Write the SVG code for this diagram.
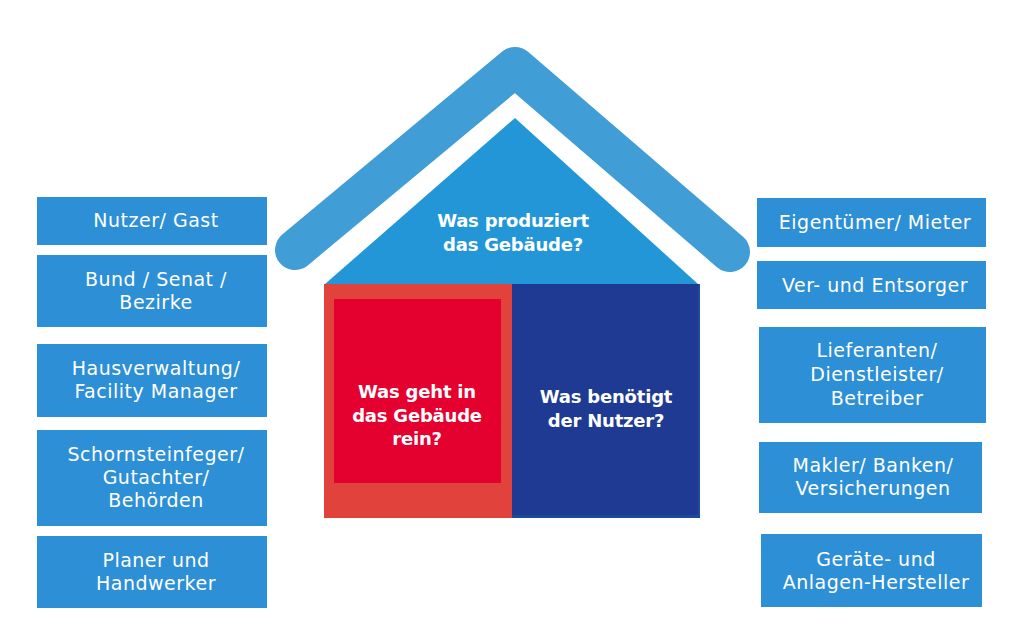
<svg xmlns="http://www.w3.org/2000/svg" width="1024" height="632" viewBox="0 0 1024 632">
<style>
.box{fill:#2d8fd5}
.lbl{font-family:"DejaVu Sans","Open Sans",sans-serif;font-size:19px;letter-spacing:0.5px;fill:#ffffff;text-anchor:middle}
.q{font-family:"DejaVu Sans","Open Sans",sans-serif;font-size:18px;letter-spacing:-0.2px;font-weight:bold;fill:#ffffff;text-anchor:middle}
</style>
<rect width="1024" height="632" fill="#ffffff"/>
<g id="house">
<path d="M295,250 L515,67 L730,252" fill="none" stroke="#409dd5" stroke-width="40" stroke-linecap="round" stroke-linejoin="round"/>
<polygon points="515,118 698,284 325,284" fill="#2396d8"/>
<rect x="324" y="284" width="188" height="234" fill="#e1423b"/>
<rect x="334" y="299" width="167" height="184" fill="#e4002f"/>
<rect x="512" y="284" width="188" height="234" fill="#1f3a93"/>
<rect x="512" y="515" width="188" height="3" fill="#1b4b9d"/>
<rect x="698" y="284" width="2" height="234" fill="#1b4b9d"/>
<text class="q" x="513" y="227">Was produziert</text>
<text class="q" x="513" y="251">das Gebäude?</text>
<text class="q" x="417" y="398">Was geht in</text>
<text class="q" x="417" y="422">das Gebäude</text>
<text class="q" x="417" y="445">rein?</text>
<text class="q" x="606" y="403">Was benötigt</text>
<text class="q" x="606" y="427">der Nutzer?</text>
</g>
<g id="l1"><rect class="box" x="37" y="197" width="230" height="48"/><text class="lbl" x="156" y="227">Nutzer/ Gast</text></g>
<g id="l2"><rect class="box" x="37" y="255" width="230" height="72"/><text class="lbl" x="156" y="286">Bund / Senat /</text><text class="lbl" x="156" y="309">Bezirke</text></g>
<g id="l3"><rect class="box" x="37" y="344" width="230" height="73"/><text class="lbl" x="156" y="375">Hausverwaltung/</text><text class="lbl" x="156" y="398">Facility Manager</text></g>
<g id="l4"><rect class="box" x="37" y="430" width="230" height="96"/><text class="lbl" x="156" y="461">Schornsteinfeger/</text><text class="lbl" x="156" y="484">Gutachter/</text><text class="lbl" x="156" y="507">Behörden</text></g>
<g id="l5"><rect class="box" x="37" y="536" width="230" height="72"/><text class="lbl" x="156" y="567">Planer und</text><text class="lbl" x="156" y="590">Handwerker</text></g>
<g id="r1"><rect class="box" x="757" y="198" width="229" height="49"/><text class="lbl" x="875" y="229">Eigentümer/ Mieter</text></g>
<g id="r2"><rect class="box" x="757" y="261" width="229" height="48"/><text class="lbl" x="875" y="292">Ver- und Entsorger</text></g>
<g id="r3"><rect class="box" x="759" y="327" width="227" height="96"/><text class="lbl" x="877" y="357">Lieferanten/</text><text class="lbl" x="877" y="381">Dienstleister/</text><text class="lbl" x="877" y="405">Betreiber</text></g>
<g id="r4"><rect class="box" x="759" y="442" width="223" height="71"/><text class="lbl" x="873" y="472">Makler/ Banken/</text><text class="lbl" x="873" y="495">Versicherungen</text></g>
<g id="r5"><rect class="box" x="761" y="534" width="221" height="73"/><text class="lbl" x="876" y="566">Geräte- und</text><text class="lbl" x="876" y="589">Anlagen-Hersteller</text></g>
<g id="connectors"></g>
</svg>
